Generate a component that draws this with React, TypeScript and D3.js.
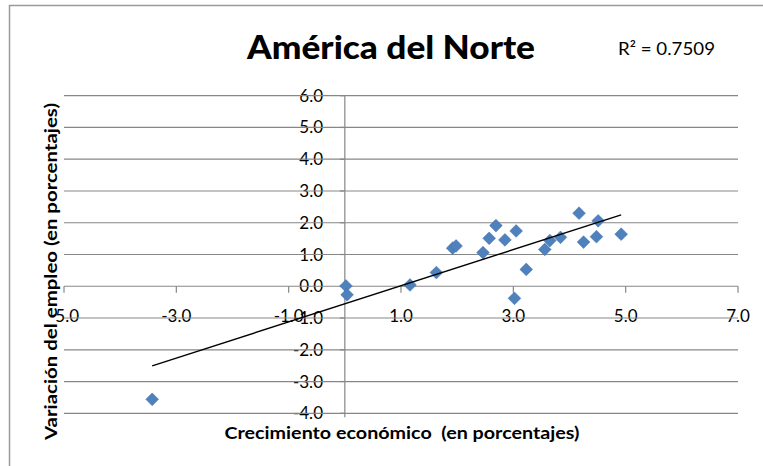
import React from 'react';
import * as d3 from 'd3';

// growth (x) vs employment change (y), North America
const growth = [1.16, 1.63, 1.92, 1.98, 2.46, 2.57, 2.69, 2.85, 3.05, 3.23, 3.02, 3.56, 3.65, 3.84, 4.17, 4.25, 4.48, 4.51, 4.92, 0.02, 0.04, -3.43];
const employment = [0.04, 0.43, 1.2, 1.27, 1.06, 1.51, 1.91, 1.46, 1.74, 0.53, -0.38, 1.16, 1.44, 1.54, 2.3, 1.39, 1.56, 2.06, 1.64, 0.01, -0.27, -3.56];

const xTicks = [-5, -3, -1, 1, 3, 5, 7];
const yTicks = [-4, -3, -2, -1, 0, 1, 2, 3, 4, 5, 6];

const title = 'América del Norte';
const rLabel = 'R² = 0.7509';
const xTitle = 'Crecimiento económico  (en porcentajes)';
const yTitle = 'Variación del empleo (en porcentajes)';

const W = 763;
const H = 466;
const font = 'Lato, "Open Sans", sans-serif';

export default function App() {
  const x = d3.scaleLinear().domain([-5, 7]).range([64, 738]);
  const y = d3.scaleLinear().domain([-4, 6]).range([413.3, 95.7]);

  // least squares trend line
  const mx = d3.mean(growth)!;
  const my = d3.mean(employment)!;
  let sxy = 0, sxx = 0;
  growth.forEach((g, i) => {
    sxy += (g - mx) * (employment[i] - my);
    sxx += (g - mx) * (g - mx);
  });
  const slope = sxy / sxx;
  const icpt = my - slope * mx;
  const [x0, x1] = d3.extent(growth) as [number, number];
  const trend = d3.line<number>().x(d => x(d)).y(d => y(icpt + slope * d));

  const diamond = d3.symbol().type(d3.symbolDiamond2).size(2 * 7.2 * 7.2)();
  const gridColor = '#878787';

  return (
    <svg width={W} height={H} style={{ position: 'absolute', left: 0, top: 0 }} fontFamily={font}>
      <rect x={0} y={0} width={W} height={H} fill="#fff" />
      <rect x={9.5} y={5.5} width={W + 20} height={H + 20} fill="none" stroke="#9a9a9a" strokeWidth={1.5} />

      <text x={391} y={59} textAnchor="middle" fontSize={33} fontWeight="900" textLength={288} lengthAdjust="spacingAndGlyphs" fill="#000">{title}</text>
      <text x={618} y={55} fontSize={18} textLength={97} lengthAdjust="spacingAndGlyphs" fill="#000">{rLabel}</text>

      {/* tick labels */}
      {yTicks.map(t => (
        <text key={'yl' + t} x={323} y={y(t) + 6} textAnchor="end" fontSize={17} fill="#000">{t.toFixed(1)}</text>
      ))}
      {xTicks.map(t => (
        <text key={'xl' + t} x={x(t)} y={y(0) + 35.7} textAnchor="middle" fontSize={17} fill="#000">{t.toFixed(1)}</text>
      ))}

      {/* gridlines */}
      {yTicks.filter(t => t !== 0).map(t => (
        <line key={'g' + t} x1={x(-5)} x2={x(7)} y1={y(t)} y2={y(t)} stroke={gridColor} strokeWidth={1.2} />
      ))}
      {/* axes */}
      <line x1={x(0)} x2={x(0)} y1={y(6)} y2={y(-4) + 4} stroke={gridColor} strokeWidth={1.2} />
      {yTicks.map(t => (
        <line key={'yt' + t} x1={x(0) - 5} x2={x(0)} y1={y(t)} y2={y(t)} stroke={gridColor} strokeWidth={1.2} />
      ))}
      <line x1={x(-5)} x2={x(7)} y1={y(0)} y2={y(0)} stroke={gridColor} strokeWidth={1.2} />
      {xTicks.map(t => (
        <line key={'xt' + t} x1={x(t)} x2={x(t)} y1={y(0)} y2={y(0) + 6.5} stroke={gridColor} strokeWidth={1.2} />
      ))}

      {/* points */}
      {growth.map((g, i) => (
        <path key={'p' + i} d={diamond!} transform={`translate(${x(g)},${y(employment[i])})`} fill="#4F81BD" stroke="#3f6fa8" strokeWidth={0.5} />
      ))}

      <path d={trend([x0, x1])!} fill="none" stroke="#000" strokeWidth={1.4} />

      <text x={402} y={439} textAnchor="middle" fontSize={17} fontWeight="bold" textLength={355} lengthAdjust="spacingAndGlyphs" fill="#000" style={{ whiteSpace: 'pre' }}>{xTitle}</text>
      <text transform={`translate(57,271.5) rotate(-90)`} textAnchor="middle" fontSize={17} fontWeight="bold" textLength={337} lengthAdjust="spacingAndGlyphs" fill="#000">{yTitle}</text>
    </svg>
  );
}
